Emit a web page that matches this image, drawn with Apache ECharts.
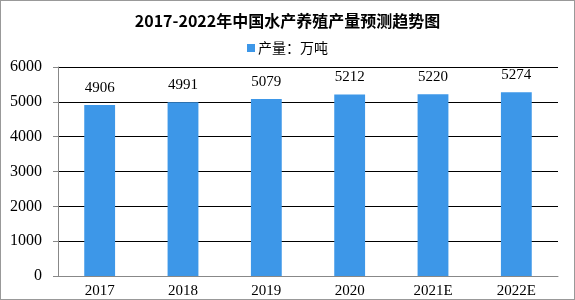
<!DOCTYPE html>
<html><head><meta charset="utf-8">
<script src="https://cdn.jsdelivr.net/npm/echarts@6/dist/echarts.min.js"></script>
<style>html,body{margin:0;padding:0;background:#fff}#c{width:575px;height:300px;box-sizing:border-box;border:1px solid #999}</style>
</head><body><div id="c"></div>
<script>
const categories = ['2017','2018','2019','2020','2021E','2022E'];
const production = [4906,4991,5079,5212,5220,5274];
const yTicks = [0,1000,2000,3000,4000,5000,6000];
const chart = echarts.init(document.getElementById('c'));
chart.setOption({
  animation:false,
  title:{text:'2017-2022年中国水产养殖产量预测趋势图',left:'center',top:7,
    textStyle:{fontFamily:'Noto Sans CJK SC',fontWeight:'bold',fontSize:16,color:'#000'}},
  legend:{top:35,left:'center',itemWidth:8,itemHeight:8,icon:'rect',itemGap:2,
    textStyle:{fontFamily:'Noto Sans CJK SC',fontSize:14,color:'#000',padding:[0,0,0,-2]}},
  grid:{left:57,right:16,top:66,bottom:23},
  xAxis:{type:'category',data:categories,
    axisLine:{lineStyle:{color:'#888'}},axisTick:{lineStyle:{color:'#888'},length:5},
    axisLabel:{fontFamily:'Liberation Serif',fontSize:15,color:'#000',margin:8}},
  yAxis:{type:'value',min:yTicks[0],max:yTicks[yTicks.length-1],interval:1000,
    axisLine:{show:true,lineStyle:{color:'#888'}},axisTick:{show:true,lineStyle:{color:'#888'},length:5},
    splitLine:{lineStyle:{color:'#000'}},
    axisLabel:{fontFamily:'Liberation Serif',fontSize:16,color:'#000',margin:16,formatter:v=>String(v)}},
  series:[{name:'产量：万吨',type:'bar',data:production,barWidth:'37%',
    itemStyle:{color:'#3d97e8'},
    label:{show:true,position:'top',distance:10,fontFamily:'Liberation Serif',fontSize:15,color:'#000'}}]
});
</script></body></html>
